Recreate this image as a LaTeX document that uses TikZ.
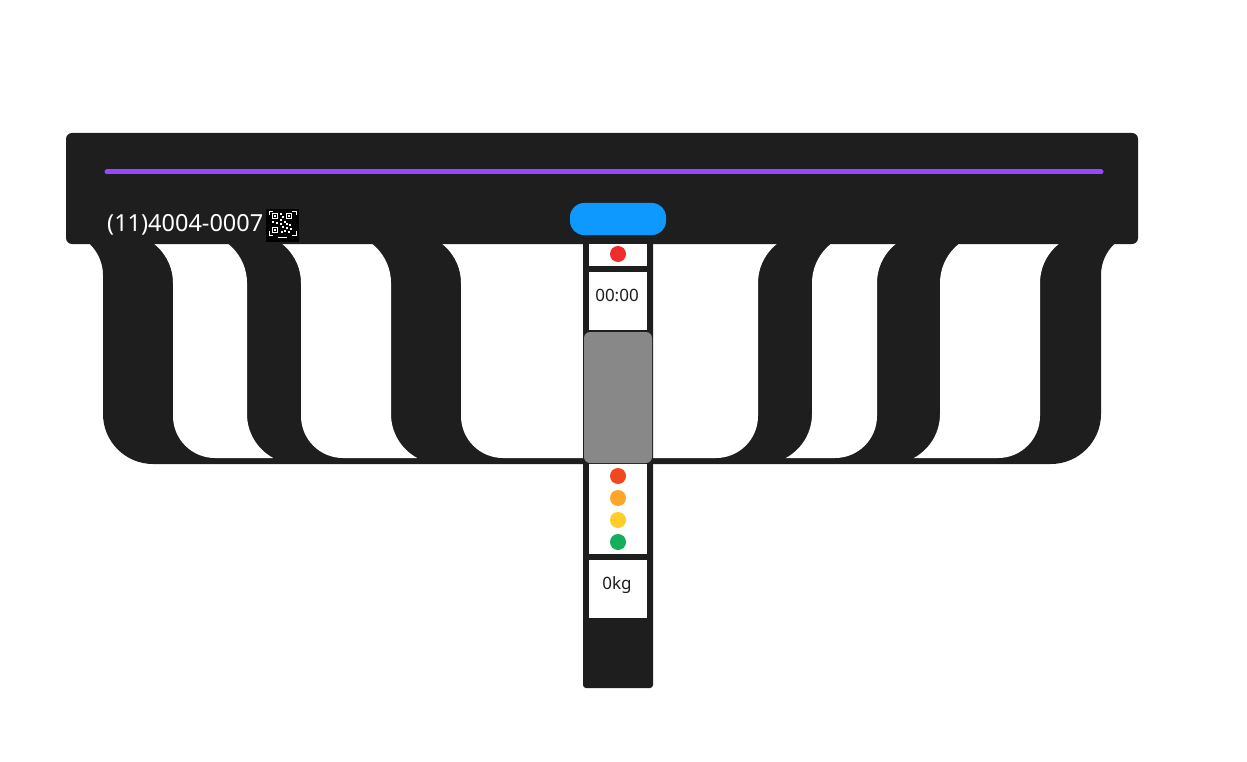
\documentclass[tikz,border=0pt]{standalone}
\usepackage{fontspec}
\setmainfont{Noto Sans}
\definecolor{rackdark}{HTML}{1E1E1E}
\definecolor{rackpurple}{HTML}{9747FF}
\definecolor{rackblue}{HTML}{0D99FF}
\definecolor{screengray}{HTML}{888888}
\definecolor{dotred}{HTML}{EF2D2D}
\definecolor{dotorange}{HTML}{F24822}
\definecolor{dotamber}{HTML}{FFA629}
\definecolor{dotyellow}{HTML}{FFCD29}
\definecolor{dotgreen}{HTML}{14AE5C}

\begin{document}
\begin{tikzpicture}[x=1pt, y=-1pt,
            rack/.style={fill=rackdark},
            hole/.style={fill=white},
            slot/.style={fill=white},
            lamp/.style={circle, inner sep=0pt, minimum size=16pt},
            phone/.style={font=\fontsize{23.5}{28}\selectfont, text=white, inner sep=0pt, anchor=base west},
            readout/.style={font=\fontsize{17}{20}\selectfont, text=rackdark, inner sep=0pt, anchor=base}
        ]
            \useasboundingbox (0,0) rectangle (1247,762);

            % base of the rack
            \begin{scope}
                \clip (66,0) rectangle (1138,762);
                \fill[rack] (60,232) -- (1144,232) .. controls (1120.3,232) and (1101,251.3) .. (1101,275)
                    -- (1101,414) .. controls (1101,441.6) and (1078.4,464) .. (1051,464)
                    -- (153,464) .. controls (125.4,464) and (103,441.6) .. (103,414)
                    -- (103,275) .. controls (103,251.3) and (83.7,232) .. (60,232) -- cycle;
            \end{scope}

            % slots, left side
            \foreach \a/\b in {173/247, 301/391}{
                \fill[hole] ({\a-50},233) -- ({\b-50},233)
                    .. controls ({\b-22.4},233) and (\b,255.4) .. (\b,283)
                    -- (\b,414) .. controls (\b,432.4) and ({\b+10},449.2) .. ({\b+26.2},458)
                    -- ({\a+42},458) .. controls ({\a+18.8},458) and (\a,439.2) .. (\a,416)
                    -- (\a,283) .. controls (\a,255.4) and ({\a-22.4},233) .. ({\a-50},233) -- cycle;
            }

            % slots, right side
            \foreach \a/\b in {812/877, 940/1040}{
                \fill[hole] ({\b+50},233) -- ({\a+50},233)
                    .. controls ({\a+22.4},233) and (\a,255.4) .. (\a,283)
                    -- (\a,414) .. controls (\a,432.4) and ({\a-10},449.2) .. ({\a-26.2},458)
                    -- ({\b-42},458) .. controls ({\b-18.8},458) and (\b,439.2) .. (\b,416)
                    -- (\b,283) .. controls (\b,255.4) and ({\b+22.4},233) .. ({\b+50},233) -- cycle;
            }

            % middle slot
            \fill[hole] (411,233) -- (808,233) .. controls (780.4,233) and (758,255.4) .. (758,283)
                -- (758,416) .. controls (758,439.2) and (739.2,458) .. (716,458)
                -- (503,458) .. controls (479.8,458) and (461,439.2) .. (461,416)
                -- (461,283) .. controls (461,255.4) and (438.6,233) .. (411,233) -- cycle;

            % top bar
            \fill[rack, rounded corners=6pt] (66,133) rectangle (1138,244);
            \draw[rackpurple, line width=5pt, line cap=round] (107,172) -- (1101,172);
            \fill[rackblue, rounded corners=14pt] (570,203) rectangle (666,235);

            % phone number and qr code
            \node[phone] (phone) at (107,232) {(11)4004-0007};
            \fill[black] (266,209) rectangle (299,242);
            \foreach \qx/\qy in {272/213, 286/213, 272/227}{
                \fill[white] (\qx,\qy) rectangle ++(6,6);
                \fill[black] ({\qx+1},{\qy+1}) rectangle ++(4,4);
                \fill[white] ({\qx+2},{\qy+2}) rectangle ++(2,2);
            }
            \foreach \qx/\qy in {280/213, 282/216, 280/219, 284/221, 272/221, 276/222, 280/223, 286/223,
                                 289/224, 282/226, 286/227, 290/228, 284/230, 288/231, 281/231}{
                \fill[white] (\qx,\qy) rectangle ++(2,2);
            }
            \draw[white, line width=0.6pt] (269,215) -- (269,211) -- (273,211)
                (292,211) -- (296,211) -- (296,215)
                (269,231) -- (269,235) -- (273,235)
                (292,235) -- (296,235) -- (296,231);
            \fill[white] (278,237) rectangle (287,238);

            % post
            \fill[rack, rounded corners=3pt] (583,240) rectangle (653,688);
            \fill[slot] (589,244) rectangle (647,266);
            \node[lamp, fill=dotred] (alarm) at (618,254) {};
            \fill[slot] (589,272) rectangle (647,330);
            \node[readout] (timer) at (617,301) {00:00};
            \fill[screengray, rounded corners=6pt] (584,332) rectangle (652,463);
            \fill[slot] (589,464) rectangle (647,554);
            \foreach \c [count=\i] in {dotorange, dotamber, dotyellow, dotgreen}{
                \node[lamp, fill=\c] (lamp\i) at (618,{454+22*\i}) {};
            }
            \fill[slot] (589,560) rectangle (647,618);
            \node[readout] (weight) at (617,589) {0kg};

        \end{tikzpicture}
\end{document}
